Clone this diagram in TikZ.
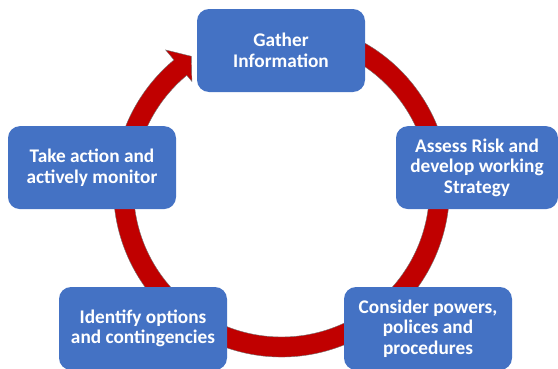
\documentclass[tikz,border=0pt]{standalone}
\usepackage{fontspec}
\setmainfont{Carlito}
\definecolor{boxblue}{HTML}{4472C4}
\definecolor{ringred}{HTML}{C00000}
\tikzset{
  stepbox/.style={rectangle, rounded corners=12pt, fill=boxblue, text=white,
    font=\bfseries\fontsize{19.3}{20.5}\selectfont, align=center,
    minimum width=168pt, minimum height=83pt, inner sep=0pt},
  ring/.style={fill=ringred, draw=black!55, line width=0.4pt}
}
\begin{document}
\begin{tikzpicture}[x=1pt,y=1pt]
\useasboundingbox (0,0) rectangle (558,368);
\coordinate (c) at (281.5,179);
\fill[ring] ([shift={(c)}]75:168) arc[start angle=75, end angle=-230.2, radius=168]
  -- ([shift={(c)}]129.8:181) -- ([shift={(c)}]124.2:160.5) -- ([shift={(c)}]129.8:140)
  -- ([shift={(c)}]129.8:148) arc[start angle=-230.2, end angle=75, radius=148] -- cycle;
\node[stepbox] (gather) at (281,317.5) {Gather\\Information};
\node[stepbox, minimum width=162pt] (assess) at (477,200.4) {Assess Risk and\\develop working\\Strategy};
\node[stepbox] (consider) at (428,39.5) {Consider powers,\\polices and\\procedures};
\node[stepbox] (identify) at (143,39.5) {Identify options\\and contingencies};
\node[stepbox] (take) at (92,200.4) {Take action and\\actively monitor};
\end{tikzpicture}
\end{document}
